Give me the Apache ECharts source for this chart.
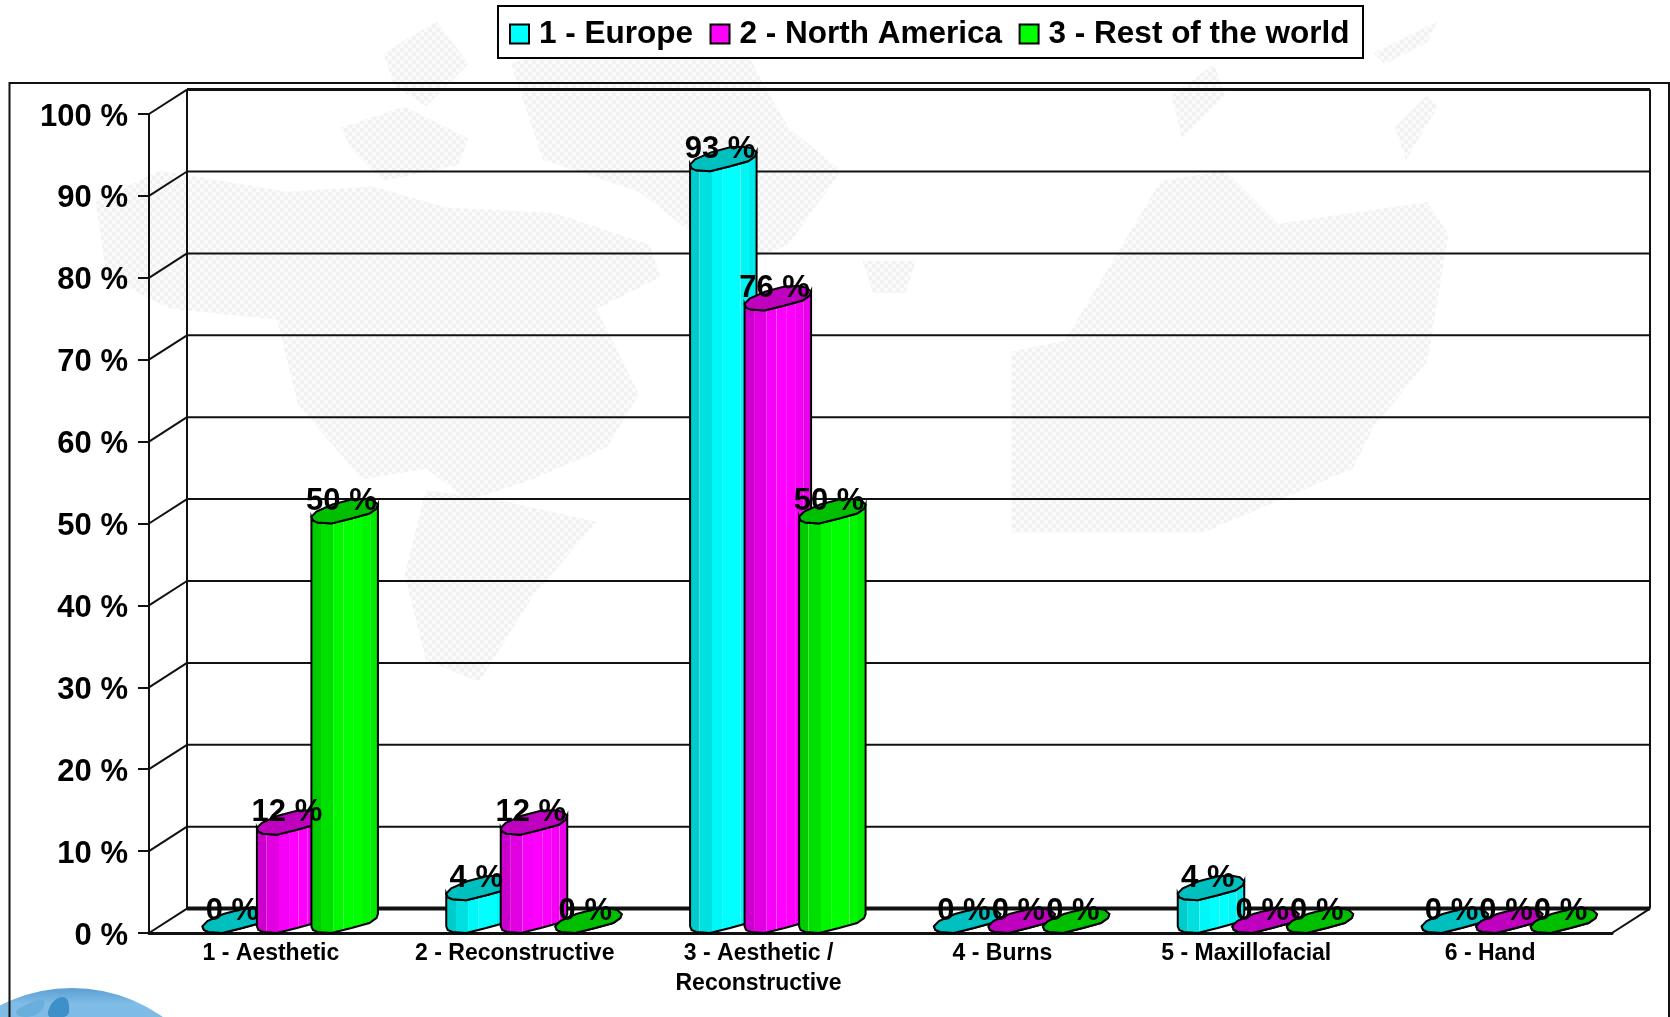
<!DOCTYPE html>
<html>
<head>
<meta charset="utf-8">
<style>html,body{margin:0;padding:0;background:#fff;overflow:hidden}#c{width:1670px;height:1017px}</style>
<script src="https://cdn.jsdelivr.net/npm/echarts@6/dist/echarts.min.js"></script>
</head>
<body>
<div id="c"></div>
<script>
var categories = ['1 - Aesthetic', '2 - Reconstructive', '3 - Aesthetic /\nReconstructive', '4 - Burns', '5 - Maxillofacial', '6 - Hand'];
var yTicks = [0, 10, 20, 30, 40, 50, 60, 70, 80, 90, 100];
var seriesNames = ['1 - Europe', '2 - North America', '3 - Rest of the world'];
var europe = [0, 4, 93, 0, 4, 0];
var northAmerica = [12, 12, 76, 0, 0, 0];
var restOfWorld = [50, 0, 50, 0, 0, 0];

var FONT = '"Liberation Sans", Arial, sans-serif';
var DX = 38, DY = 24.4;
var STEP = 54.5, START = -14;
// Outline of a bar's slanted cylinder section, relative to its left edge and lowest point
var OUT = [[0,-6.7],[1.5,-3],[6,-1],[20,0],[40,-5],[58,-10],[65,-15],[66.5,-19],[62,-23],[54,-24.5],[40,-24],[21,-19],[5,-12]];
var LOWER = OUT.slice(0, 8);
var SHADES = [[0,.80],[.15,.88],[.33,.97],[.48,1],[.62,1],[.75,.96],[.87,.92],[1,.84]];

function shade(rgb, b, lift) {
  return 'rgb(' + rgb.map(function (c) { return c ? Math.round(255 * b) : lift; }).join(',') + ')';
}
function stripes(rgb) {
  var stops = [];
  for (var i = 0; i < SHADES.length - 1; i++) {
    var a = SHADES[i][0], e = SHADES[i + 1][0], b = SHADES[i][1];
    stops.push({offset: a, color: shade(rgb, b, i ? 100 : 0)});
    stops.push({offset: a + .012, color: shade(rgb, b, 0)});
    stops.push({offset: e, color: shade(rgb, b, 0)});
  }
  return {type: 'linear', x: 0, y: 0, x2: 1, y2: 0, colorStops: stops};
}

function barSeries(name, values, index, rgb) {
  return {
    name: name, type: 'custom', z: 5 + index,
    itemStyle: {color: 'rgb(' + rgb.join(',') + ')'},
    data: values.map(function (v, i) { return [i, v]; }),
    renderItem: function (p, api) {
      var top = api.coord([api.value(0), api.value(1)]);
      var base = api.coord([api.value(0), 0]);
      var l = top[0] + START + (index - 1) * STEP;
      var capPts = OUT.map(function (q) { return [l + q[0], top[1] + q[1]]; });
      var body = [];
      LOWER.forEach(function (q) { body.push([l + q[0], base[1] + q[1]]); });
      LOWER.slice().reverse().forEach(function (q) { body.push([l + q[0], top[1] + q[1]]); });
      return {type: 'group', children: [
        {type: 'polygon', shape: {points: body}, style: {fill: stripes(rgb), stroke: '#000', lineWidth: 2}},
        {type: 'polygon', shape: {points: capPts}, style: {fill: shade(rgb, .75, 0), stroke: '#000', lineWidth: 2}}
      ]};
    }
  };
}
function labelSeries(values, index) {
  return {
    type: 'custom', z: 20, silent: true,
    data: values.map(function (v, i) { return [i, v]; }),
    renderItem: function (p, api) {
      var top = api.coord([api.value(0), api.value(1)]);
      return {type: 'text', style: {
        text: api.value(1) + ' %', x: top[0] + START + (index - 1) * STEP + 30, y: top[1] - 22,
        align: 'center', verticalAlign: 'middle', fill: '#000', font: 'bold 31px ' + FONT
      }};
    }
  };
}
var wallSeries = {
  type: 'custom', z: 2, silent: true,
  data: yTicks.map(function (v) { return [0, v]; }),
  renderItem: function (p, api) {
    var v = api.value(1), y = api.coord([0, v])[1], cs = p.coordSys;
    var x0 = cs.x, x1 = cs.x + cs.width;
    var ls = {stroke: '#111', lineWidth: v === 0 ? 4 : (v === 100 ? 3 : 2)};
    var thin = {stroke: '#111', lineWidth: 2};
    var ch = [
      {type: 'line', shape: {x1: x0 + DX, y1: y - DY, x2: x1 + DX, y2: y - DY}, style: ls},
      {type: 'line', shape: {x1: x0, y1: y, x2: x0 + DX, y2: y - DY}, style: thin}
    ];
    if (v === 0) {
      var yt = api.coord([0, 100])[1];
      ch.push({type: 'line', shape: {x1: x1, y1: y, x2: x1 + DX, y2: y - DY}, style: thin});
      ch.push({type: 'line', shape: {x1: x0 + DX, y1: y - DY, x2: x0 + DX, y2: yt - DY}, style: thin});
      ch.push({type: 'line', shape: {x1: x1 + DX, y1: y - DY, x2: x1 + DX, y2: yt - DY}, style: thin});
    }
    return {type: 'group', children: ch};
  }
};

// Faint dotted world-map watermark and corner globe (decoration behind the chart)
var dots = document.createElement('canvas');
dots.width = 8; dots.height = 8;
(function () {
  var g = dots.getContext('2d');
  g.fillStyle = '#fbfbfb'; g.fillRect(0, 0, 8, 8);
  g.fillStyle = '#f1f1f1';
  [[2, 2], [6, 6]].forEach(function (q) { g.beginPath(); g.arc(q[0], q[1], 2.2, 0, 7); g.fill(); });
})();
var K = 1.065;
function land(pts) {
  return {type: 'polygon', z: -10, silent: true,
    shape: {points: pts.map(function (q) { return [q[0] * K, q[1] * K]; })},
    style: {fill: {image: dots, repeat: 'repeat'}}};
}
var decor = [
  [[90,190],[150,160],[270,180],[350,175],[420,195],[520,200],[610,230],[620,260],[560,290],[600,370],[570,420],[500,450],[440,470],[400,440],[340,450],[280,380],[260,300],[160,290],[100,260]],
  [[400,460],[470,470],[560,490],[500,560],[450,640],[400,620],[380,540]],
  [[320,120],[380,100],[440,130],[430,155],[360,170],[330,140]],
  [[360,50],[410,20],[440,60],[400,100],[370,80]],
  [[480,60],[600,10],[690,30],[740,120],[790,160],[740,230],[690,250],[600,180],[510,150]],
  [[810,245],[860,245],[850,275],[820,275]],
  [[950,330],[1000,320],[1030,270],[1090,170],[1150,160],[1200,210],[1340,190],[1360,220],[1340,340],[1290,400],[1270,440],[1130,500],[950,500],[950,400]],
  [[1310,120],[1340,90],[1350,100],[1320,150]],
  [[1290,50],[1350,20],[1340,40],[1300,60]],
  [[1100,90],[1140,60],[1150,90],[1110,130]]
].map(land);
decor.push({type: 'circle', z: -9, silent: true, shape: {cx: 72, cy: 1145, r: 157},
  style: {fill: {type: 'linear', x: 0, y: 0, x2: 0, y2: 1, colorStops: [{offset: 0, color: '#5b9fd2'}, {offset: .05, color: '#7fbce6'}, {offset: 1, color: '#5aa5dc'}]}}});
decor.push({type: 'polygon', z: -8, silent: true, shape: {smooth: .4, points: [[48,1012],[55,1000],[66,998],[69,1012],[64,1017],[50,1017]]}, style: {fill: '#3f8fc9'}});
decor.push({type: 'polygon', z: -8, silent: true, shape: {smooth: .4, points: [[16,1012],[30,1003],[44,1000],[40,1012],[24,1017]]}, style: {fill: '#6aaedd'}});
decor.push({type: 'rect', z: -7, silent: true, shape: {x: 9.5, y: 83, width: 1659.5, height: 960}, style: {fill: 'transparent', stroke: '#111', lineWidth: 2}});
decor.push({type: 'rect', z: -6, silent: true, shape: {x: 498, y: 6, width: 865, height: 52}, style: {fill: '#fff', stroke: '#000', lineWidth: 2}});

var chart = echarts.init(document.getElementById('c'), null, {renderer: 'canvas'});
chart.setOption({
  animation: false,
  backgroundColor: '#fff',
  graphic: {elements: decor},
  legend: {
    data: seriesNames, left: 497, top: 9, padding: [9, 15, 9, 12], itemGap: 16.5,
    itemWidth: 19, itemHeight: 19, icon: 'rect', selectedMode: false,
    itemStyle: {borderColor: '#000', borderWidth: 2},
    textStyle: {color: '#000', fontFamily: FONT, fontWeight: 'bold', fontSize: 31.5, padding: [4, 0, 0, 5]}
  },
  grid: {left: 149, right: 58, top: 114, bottom: 84, containLabel: false},
  xAxis: {
    type: 'category', data: categories,
    axisLine: {lineStyle: {color: '#111', width: 3}},
    axisTick: {show: false}, splitLine: {show: false},
    axisLabel: {interval: 0, margin: 6, color: '#000', fontFamily: FONT, fontWeight: 'bold', fontSize: 23, lineHeight: 30}
  },
  yAxis: {
    type: 'value', min: 0, max: 100, interval: 10,
    axisLine: {show: true, lineStyle: {color: '#111', width: 2}},
    axisTick: {show: true, length: 11, lineStyle: {color: '#111', width: 2}},
    splitLine: {show: false},
    axisLabel: {margin: 21, color: '#000', fontFamily: FONT, fontWeight: 'bold', fontSize: 31, verticalAlign: 'top', lineHeight: 6, formatter: '{value} %'}
  },
  series: [
    wallSeries,
    barSeries(seriesNames[0], europe, 0, [0, 255, 255]),
    barSeries(seriesNames[1], northAmerica, 1, [255, 0, 255]),
    barSeries(seriesNames[2], restOfWorld, 2, [0, 255, 0]),
    labelSeries(europe, 0), labelSeries(northAmerica, 1), labelSeries(restOfWorld, 2)
  ]
});
</script>
</body>
</html>
